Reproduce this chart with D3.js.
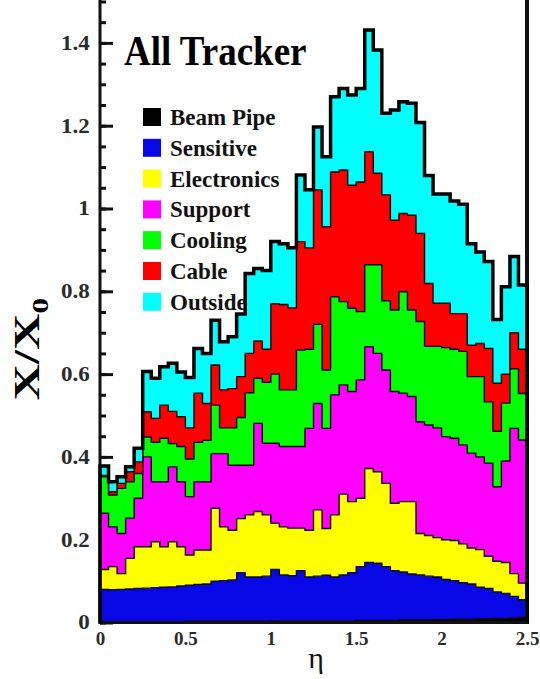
<!DOCTYPE html>
<html>
<head>
<meta charset="utf-8">
<script src="https://cdn.jsdelivr.net/npm/d3@7"></script>
<style>
  html, body { margin: 0; padding: 0; background: #fff; }
  svg { display: block; font-family: "Liberation Serif", "DejaVu Serif", serif; }
</style>
</head>
<body>
<svg id="chart" width="540" height="679"></svg>
<script>
// Material budget of the tracker, stacked by category, in bins of pseudorapidity.
const binWidth = 0.05;
const etaLow = d3.range(50).map(i => +(i * binWidth).toFixed(2));
const etaMax = 2.5;

const materials = ["Beam Pipe", "Sensitive", "Electronics", "Support", "Cooling", "Cable", "Outside"];
const materialColors = ["#000000", "#0808e6", "#ffff00", "#ff00ff", "#00ff00", "#ff0000", "#00ffff"];

const beamPipe = [0.002,0.002,0.002,0.002,0.002,0.002,0.002,0.002,0.002,0.002,
  0.003,0.003,0.003,0.003,0.003,0.003,0.003,0.003,0.003,0.003,
  0.004,0.004,0.004,0.004,0.004,0.004,0.004,0.004,0.004,0.004,
  0.005,0.005,0.005,0.005,0.005,0.006,0.006,0.006,0.006,0.007,
  0.007,0.008,0.008,0.008,0.009,0.009,0.010,0.010,0.011,0.012];
const sensitive = [0.078,0.077,0.078,0.079,0.080,0.081,0.082,0.083,0.084,0.086,
  0.087,0.089,0.090,0.097,0.098,0.100,0.117,0.107,0.107,0.109,
  0.124,0.111,0.109,0.121,0.106,0.108,0.110,0.106,0.111,0.116,
  0.130,0.140,0.138,0.130,0.120,0.116,0.111,0.109,0.106,0.103,
  0.097,0.093,0.088,0.085,0.076,0.073,0.064,0.060,0.052,0.043];
const electronics = [0.048,0.056,0.038,0.074,0.101,0.100,0.111,0.098,0.109,0.095,
  0.073,0.083,0.082,0.176,0.130,0.120,0.131,0.150,0.158,0.148,
  0.112,0.116,0.115,0.103,0.113,0.160,0.113,0.150,0.195,0.172,
  0.165,0.227,0.221,0.201,0.163,0.170,0.175,0.100,0.098,0.095,
  0.096,0.097,0.094,0.087,0.091,0.078,0.074,0.075,0.055,0.040];
const support = [0.136,0.096,0.097,0.097,0.117,0.217,0.145,0.157,0.181,0.157,
  0.141,0.165,0.165,0.132,0.177,0.157,0.129,0.120,0.213,0.173,
  0.193,0.194,0.197,0.197,0.246,0.257,0.242,0.290,0.264,0.266,
  0.286,0.294,0.286,0.274,0.270,0.262,0.254,0.270,0.267,0.265,
  0.249,0.247,0.239,0.229,0.224,0.225,0.180,0.245,0.351,0.346];
const cooling = [0.088,0.077,0.109,0.088,0.060,0.048,0.095,0.105,0.056,0.085,
  0.091,0.095,0.100,0.117,0.062,0.090,0.115,0.175,0.109,0.147,
  0.167,0.137,0.137,0.233,0.191,0.191,0.141,0.237,0.201,0.201,
  0.165,0.198,0.214,0.167,0.197,0.245,0.209,0.242,0.190,0.197,
  0.215,0.215,0.226,0.185,0.194,0.148,0.134,0.140,0.144,0.112];
const cable = [0.003,0.008,0.012,0.024,0.028,0.061,0.058,0.080,0.078,0.072,
  0.075,0.119,0.089,0.097,0.092,0.095,0.099,0.095,0.090,0.080,
  0.170,0.206,0.198,0.262,0.245,0.325,0.346,0.301,0.318,0.297,
  0.313,0.273,0.221,0.256,0.217,0.189,0.229,0.213,0.152,0.104,
  0.107,0.086,0.091,0.076,0.080,0.129,0.116,0.070,0.087,0.107];
const outside = [0.023,0.024,0.016,0.012,0.033,0.097,0.097,0.093,0.116,0.108,
  0.122,0.108,0.121,0.108,0.116,0.125,0.151,0.193,0.175,0.190,
  0.150,0.147,0.145,0.161,0.140,0.152,0.169,0.182,0.197,0.218,
  0.226,0.294,0.298,0.197,0.266,0.270,0.270,0.268,0.261,0.264,
  0.264,0.272,0.264,0.245,0.221,0.210,0.154,0.211,0.184,0.155];

const seriesValues = [beamPipe, sensitive, electronics, support, cooling, cable, outside];

const yTicks = [0, 0.2, 0.4, 0.6, 0.8, 1, 1.2, 1.4];
const yTickLabels = ["0", "0.2", "0.4", "0.6", "0.8", "1", "1.2", "1.4"];
const xTicks = [0, 0.5, 1, 1.5, 2, 2.5];
const xTickLabels = ["0", "0.5", "1", "1.5", "2", "2.5"];

// ---- scales ----
const x = d3.scaleLinear().domain([0, etaMax]).range([100, 527]);
const y = d3.scaleLinear().domain([0, 1.5]).range([622.5, 1.5]);

const svg = d3.select("#chart");
const ink = "#111";

// ---- axes (ticks sit underneath the filled histograms) ----
const yMinor = d3.range(0, 1.5001, 0.05).map(v => +v.toFixed(2));
svg.append("g").attr("transform", `translate(${x(0)},0)`)
  .call(d3.axisLeft(y).tickValues(yMinor).tickSize(-6).tickFormat(""))
  .call(g => g.select(".domain").remove())
  .call(g => g.selectAll("line").attr("stroke", ink).attr("stroke-width", 3));

const yAxis = svg.append("g").attr("transform", `translate(${x(0)},0)`)
  .call(d3.axisLeft(y).tickValues(yTicks).tickSize(-13).tickPadding(8)
    .tickFormat((d, i) => yTickLabels[i]))
  .call(g => g.select(".domain").remove());
yAxis.selectAll("line").attr("stroke", ink).attr("stroke-width", 3);
yAxis.selectAll("text").attr("font-family", "Liberation Serif, serif")
  .attr("font-size", 20).attr("font-weight", "bold").attr("fill", "#2a2a2a")
  .attr("x", -9).attr("transform", "scale(1.15,1)");

const xAxis = svg.append("g").attr("transform", `translate(0,${y(0)})`)
  .call(d3.axisBottom(x).tickValues(xTicks).tickSize(-13).tickPadding(6)
    .tickFormat((d, i) => xTickLabels[i]))
  .call(g => g.select(".domain").remove());
xAxis.selectAll("line").attr("stroke", ink).attr("stroke-width", 3);
xAxis.selectAll("text").attr("font-family", "Liberation Serif, serif")
  .attr("font-size", 19).attr("font-weight", "bold").attr("fill", "#2a2a2a")
  .attr("dy", "0.85em");

// ---- stacked histogram ----
const rows = etaLow.map((eta, i) => {
  const r = { eta };
  materials.forEach((m, k) => { r[m] = seriesValues[k][i]; });
  return r;
});
const stacked = d3.stack().keys(materials)(rows);

// step points: one per bin low edge, plus the closing edge at etaMax
function stepPoints(layer) {
  const pts = layer.map((d, i) => ({ e: etaLow[i], lo: d[0], hi: d[1] }));
  const last = layer[layer.length - 1];
  pts.push({ e: etaMax, lo: last[0], hi: last[1] });
  return pts;
}

const area = d3.area().curve(d3.curveStepAfter)
  .x(p => x(p.e)).y0(p => y(p.lo)).y1(p => y(p.hi));
const topLine = d3.line().curve(d3.curveStepAfter)
  .x(p => x(p.e)).y(p => y(p.hi));

const hist = svg.append("g");
stacked.forEach((layer, k) => {
  hist.append("path").attr("d", area(stepPoints(layer)))
    .attr("fill", materialColors[k]).attr("stroke", "none");
});
stacked.forEach((layer, k) => {
  if (k === stacked.length - 1) return;
  hist.append("path").attr("d", topLine(stepPoints(layer)))
    .attr("fill", "none").attr("stroke", "#0a0a0a").attr("stroke-width", 1.4);
});

// ---- frame ----
svg.append("line").attr("x1", x(0)).attr("x2", x(0)).attr("y1", 0).attr("y2", y(0) + 1.5)
  .attr("stroke", ink).attr("stroke-width", 3);
svg.append("line").attr("x1", x(etaMax)).attr("x2", x(etaMax)).attr("y1", 0).attr("y2", y(0) + 1.5)
  .attr("stroke", ink).attr("stroke-width", 4);
svg.append("line").attr("x1", x(0) - 1.5).attr("x2", x(etaMax) + 2).attr("y1", y(0)).attr("y2", y(0))
  .attr("stroke", ink).attr("stroke-width", 3);

// thick outline of the total
const totalPts = stepPoints(stacked[stacked.length - 1]);
const outline = [{ e: 0, hi: 0 }, ...totalPts, { e: etaMax, hi: 0 }];
svg.append("path").attr("d", topLine(outline))
  .attr("fill", "none").attr("stroke", "#000").attr("stroke-width", 3.5)
  .attr("stroke-linejoin", "miter");

// ---- titles ----
svg.append("text")
  .attr("transform", "translate(124,65) scale(1,1.12)")
  .attr("font-size", 37).attr("font-weight", "bold").attr("fill", "#000")
  .text("All Tracker");

const yTitle = svg.append("text")
  .attr("transform", "translate(39,349) rotate(-90) scale(1.4,1)")
  .attr("text-anchor", "middle")
  .attr("font-size", 36).attr("font-weight", "bold").attr("fill", "#000");
yTitle.append("tspan").text("X/X");
yTitle.append("tspan").attr("font-size", 23).attr("dy", 9).text("0");

svg.append("text").attr("x", 316).attr("y", 668)
  .attr("text-anchor", "middle").attr("font-size", 30).attr("fill", "#111")
  .text("η");

// ---- legend ----
const legend = svg.append("g").attr("transform", "translate(143,108)");
materials.forEach((m, k) => {
  const row = legend.append("g").attr("transform", `translate(0,${k * 30.8})`);
  row.append("rect").attr("width", 18).attr("height", 18).attr("fill", materialColors[k]);
  row.append("text").attr("x", 27).attr("y", 17)
    .attr("font-size", 23).attr("font-weight", "bold").attr("fill", "#111")
    .text(m);
});
</script>
</body>
</html>
